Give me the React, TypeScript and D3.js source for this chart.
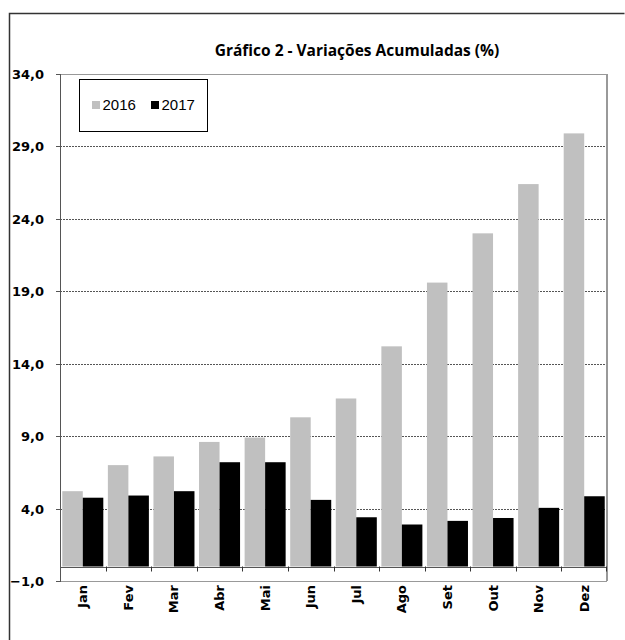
import React from "react";
import * as d3 from "d3";

const months = ["Jan", "Fev", "Mar", "Abr", "Mai", "Jun", "Jul", "Ago", "Set", "Out", "Nov", "Dez"];
const series = ["2016", "2017"];
const values2016 = [5.2, 7.0, 7.6, 8.6, 8.9, 10.3, 11.6, 15.2, 19.6, 23.0, 26.4, 29.9];
const values2017 = [4.75, 4.9, 5.2, 7.2, 7.2, 4.6, 3.4, 2.9, 3.15, 3.35, 4.05, 4.85];
const yTicks = [-1, 4, 9, 14, 19, 24, 29, 34];
const colors = ["#c0c0c0", "#000000"];
const title = "Gráfico 2 - Variações Acumuladas (%)";

export default function App() {
  const W = 625, H = 640;
  const left = 60, right = 607, top = 74, bottom = 581;
  const y = d3.scaleLinear().domain([-1, 34]).range([bottom, top]);
  const x = d3.scaleBand<string>().domain(months).range([left, right]).padding(0);
  const bw = x.bandwidth();
  const inner = d3.scaleBand<string>().domain(series).range([bw * 0.05, bw * 0.95]).padding(0);
  const data = [values2016, values2017];
  const fmt = (v: number) => d3.format(".1f")(v).replace(".", ",");
  const y0 = y(0);

  return (
    <svg width={W} height={H} style={{ position: "absolute", left: 0, top: 0, background: "#fff" }}>
      <rect x={0} y={0} width={W} height={H} fill="#fff" />
      <path d={`M9.5,${H} V13.5 H624.5`} fill="none" stroke="#333" strokeWidth={1.5} />
      <text x={357} y={56} textAnchor="middle" fontFamily="'Open Sans', sans-serif" fontWeight="bold" fontSize={15.5} fill="#000">
        {title}
      </text>
      {/* grid */}
      {yTicks.filter(t => t > -1 && t < 34).map(t => (
        <line key={t} x1={left} x2={right} y1={Math.round(y(t)) + 0.5} y2={Math.round(y(t)) + 0.5} stroke="#555" strokeDasharray="2,1" strokeWidth={1} />
      ))}
      {/* plot border */}
      <line x1={left} x2={right} y1={top + 0.5} y2={top + 0.5} stroke="#999" strokeWidth={1} />
      <line x1={right} x2={right} y1={top} y2={bottom} stroke="#999" strokeWidth={2} />
      <line x1={left} x2={right} y1={bottom + 0.5} y2={bottom + 0.5} stroke="#999" strokeWidth={1} />
      {/* bars */}
      {months.map((m, i) => (
        <g key={m}>
          {series.map((s, j) => {
            const v = data[j][i];
            const yt = y(v);
            return (
              <rect key={s} x={(x(m) as number) + (inner(s) as number)} y={yt} width={inner.bandwidth()} height={y0 - yt} fill={colors[j]} />
            );
          })}
        </g>
      ))}
      {/* category axis at zero */}
      <line x1={left} x2={right} y1={Math.round(y0) + 0.5} y2={Math.round(y0) + 0.5} stroke="#555" strokeWidth={1} />
      {months.map((m) => (
        <line key={"t" + m} x1={Math.round(x(m) as number) + 0.5} x2={Math.round(x(m) as number) + 0.5} y1={y0} y2={y0 + 5} stroke="#333" />
      ))}
      <line x1={right - 0.5} x2={right - 0.5} y1={y0} y2={y0 + 5} stroke="#333" />
      {/* y axis */}
      <line x1={left + 0.5} x2={left + 0.5} y1={top} y2={bottom + 1} stroke="#555" strokeWidth={1} />
      {yTicks.map(t => (
        <g key={"y" + t}>
          <line x1={left - 4} x2={left} y1={Math.round(y(t)) + 0.5} y2={Math.round(y(t)) + 0.5} stroke="#555" />
          <text x={44} y={y(t) + 5} textAnchor="end" fontFamily="'DejaVu Sans', sans-serif" fontWeight="bold" fontSize={13} fill="#000">
            {fmt(t)}
          </text>
        </g>
      ))}
      {/* x labels */}
      {months.map(m => {
        const cx = (x(m) as number) + bw / 2;
        return (
          <text key={"l" + m} transform={`translate(${cx + 4.5},${bottom + 4}) rotate(-90)`} textAnchor="end" fontFamily="'DejaVu Sans', sans-serif" fontWeight="bold" fontSize={13} fill="#000">
            {m}
          </text>
        );
      })}
      {/* legend */}
      <rect x={79.5} y={79.5} width={128} height={52} fill="#fff" stroke="#000" strokeWidth={1} />
      {series.map((s, j) => (
        <g key={"lg" + s}>
          <rect x={92 + j * 59} y={101} width={8} height={8} fill={colors[j]} />
          <text x={102.5 + j * 59} y={110} fontFamily="'Liberation Sans', Arial, sans-serif" fontSize={15} fill="#000">
            {s}
          </text>
        </g>
      ))}
    </svg>
  );
}
